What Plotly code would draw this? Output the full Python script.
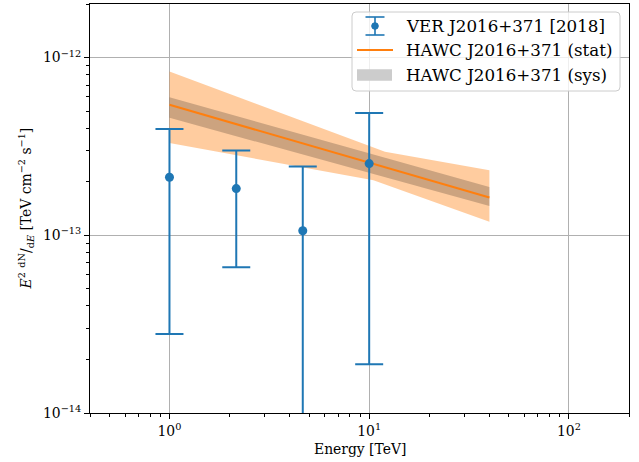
import math
import plotly.graph_objects as go

# VERITAS flux points: E^2 dN/dE [TeV cm^-2 s^-1], symmetric 1-sigma errors
ver_energy = [1.0, 2.16, 4.65, 10.0]
ver_flux = [2.12e-13, 1.83e-13, 1.06e-13, 2.53e-13]
ver_err = [1.842e-13, 1.17e-13, 1.38e-13, 2.342e-13]

# HAWC power-law fit (straight on log-log axes) with systematic band
hawc_energy = [1.0, 40.0]
hawc_flux = [5.42e-13, 1.63e-13]
hawc_sys_hi = [5.98e-13, 1.87e-13]
hawc_sys_lo = [4.58e-13, 1.46e-13]

# HAWC statistical butterfly (upper and lower edges)
stat_hi_energy = [1.0, 12.0, 40.0]
stat_hi = [8.34e-13, 2.95e-13, 2.32e-13]
stat_lo_energy = [1.0, 10.5, 40.0]
stat_lo = [3.30e-13, 2.04e-13, 1.19e-13]

# axis ticks
x_tickvals = [1, 10, 100]
x_ticktext = ["10<sup>0</sup>", "10<sup>1</sup>", "10<sup>2</sup>"]
y_tickvals = [1e-14, 1e-13, 1e-12]
y_ticktext = ["10<sup>\u221214</sup>", "10<sup>\u221213</sup>", "10<sup>\u221212</sup>"]

legend_labels = ["VER J2016+371 [2018]", "HAWC J2016+371 (stat)", "HAWC J2016+371 (sys)"]

BLUE = "#1f77b4"
ORANGE = "#ff7f0e"
FONT = "DejaVu Serif"

W, H = 639, 462
PLOT_L, PLOT_R, PLOT_T, PLOT_B = 90, 629, 4, 413


def px(x):
    return (x - PLOT_L) / (PLOT_R - PLOT_L)


def py(y):
    return (PLOT_B - y) / (PLOT_B - PLOT_T)


x_minor = [m * 10.0 ** k for k in range(-1, 3) for m in range(2, 10)]
y_minor = [m * 10.0 ** k for k in range(-14, -11) for m in range(2, 10)]

fig = go.Figure()

# statistical band
fig.add_trace(go.Scatter(
    x=stat_hi_energy + stat_lo_energy[::-1],
    y=stat_hi + stat_lo[::-1],
    fill="toself", fillcolor="rgba(255,127,14,0.4)",
    mode="lines", line=dict(width=0), hoverinfo="skip",
))
# systematic band
fig.add_trace(go.Scatter(
    x=hawc_energy + hawc_energy[::-1],
    y=hawc_sys_hi + hawc_sys_lo[::-1],
    fill="toself", fillcolor="rgba(0,0,0,0.2)",
    mode="lines", line=dict(width=0), hoverinfo="skip",
))
# best-fit line
fig.add_trace(go.Scatter(
    x=hawc_energy, y=hawc_flux, mode="lines",
    line=dict(color=ORANGE, width=2),
))
# VERITAS points
fig.add_trace(go.Scatter(
    x=ver_energy, y=ver_flux, mode="markers",
    marker=dict(color=BLUE, size=9),
    error_y=dict(type="data", array=ver_err, symmetric=True,
                 color=BLUE, thickness=2, width=14),
))

axis_common = dict(
    type="log",
    tickmode="array",
    ticks="outside", ticklen=5, tickwidth=1, tickcolor="#000",
    showgrid=True, gridcolor="#b0b0b0", gridwidth=1,
    showline=True, linecolor="#000", linewidth=1, mirror=True,
    zeroline=False,
    tickfont=dict(family=FONT, size=13.9, color="#000"),
)

fig.update_xaxes(
    **axis_common,
    range=[math.log10(0.4), math.log10(200)],
    tickvals=x_tickvals, ticktext=x_ticktext,
    minor=dict(tickmode="array", tickvals=x_minor, ticks="outside",
               ticklen=3, tickwidth=1, tickcolor="#000", showgrid=False),
)
fig.update_yaxes(
    **axis_common,
    range=[-14, math.log10(2e-12)],
    tickvals=y_tickvals, ticktext=y_ticktext,
    minor=dict(tickmode="array", tickvals=y_minor, ticks="outside",
               ticklen=3, tickwidth=1, tickcolor="#000", showgrid=False),
)

annotations = [
    dict(text="Energy [TeV]", xref="paper", yref="paper",
         x=px(359.5), y=py(449), xanchor="center", yanchor="middle",
         showarrow=False, font=dict(family=FONT, size=13.9, color="#000")),
    dict(text="<i>E</i><sup>2</sup> <sup>dN</sup>/<sub>d<i>E</i></sub> [TeV cm<sup>\u22122</sup> s<sup>\u22121</sup>]",
         xref="paper", yref="paper", x=px(26), y=0.5, textangle=-90,
         xanchor="center", yanchor="middle", showarrow=False,
         font=dict(family=FONT, size=13.9, color="#000")),
]

# legend
shapes = []
bx0, by0, bx1, by1, r = 352, 12, 620, 91, 4
path = (
    f"M{px(bx0 + r)},{py(by0)} L{px(bx1 - r)},{py(by0)} "
    f"Q{px(bx1)},{py(by0)} {px(bx1)},{py(by0 + r)} "
    f"L{px(bx1)},{py(by1 - r)} Q{px(bx1)},{py(by1)} {px(bx1 - r)},{py(by1)} "
    f"L{px(bx0 + r)},{py(by1)} Q{px(bx0)},{py(by1)} {px(bx0)},{py(by1 - r)} "
    f"L{px(bx0)},{py(by0 + r)} Q{px(bx0)},{py(by0)} {px(bx0 + r)},{py(by0)} Z"
)
shapes.append(dict(type="path", path=path, xref="paper", yref="paper",
                   fillcolor="rgba(255,255,255,0.8)",
                   line=dict(color="#cccccc", width=1)))

row_y = [26, 50, 75]
sym_cx = 375
# errorbar handle
shapes.append(dict(type="line", xref="paper", yref="paper",
                   x0=px(sym_cx), x1=px(sym_cx), y0=py(row_y[0] - 9), y1=py(row_y[0] + 9),
                   line=dict(color=BLUE, width=1.6)))
for dy in (-9, 9):
    shapes.append(dict(type="line", xref="paper", yref="paper",
                       x0=px(sym_cx - 9.5), x1=px(sym_cx + 9.5),
                       y0=py(row_y[0] + dy), y1=py(row_y[0] + dy),
                       line=dict(color=BLUE, width=1.6)))
shapes.append(dict(type="circle", xref="paper", yref="paper",
                   x0=px(sym_cx - 3.3), x1=px(sym_cx + 3.3),
                   y0=py(row_y[0] - 3.3), y1=py(row_y[0] + 3.3),
                   fillcolor=BLUE, line=dict(color=BLUE, width=1)))
# line handle
shapes.append(dict(type="line", xref="paper", yref="paper",
                   x0=px(357), x1=px(393), y0=py(row_y[1]), y1=py(row_y[1]),
                   line=dict(color=ORANGE, width=2)))
# patch handle
shapes.append(dict(type="rect", xref="paper", yref="paper",
                   x0=px(357), x1=px(392), y0=py(row_y[2] - 5.7), y1=py(row_y[2] + 5.7),
                   fillcolor="#cccccc", line=dict(width=0)))

for label, yy in zip(legend_labels, row_y):
    annotations.append(dict(text=label, xref="paper", yref="paper",
                            x=px(403.5), y=py(yy), xanchor="left", yanchor="middle",
                            showarrow=False,
                            font=dict(family=FONT, size=16.7, color="#000")))

fig.update_layout(
    width=W, height=H,
    margin=dict(l=PLOT_L, r=W - PLOT_R, t=PLOT_T, b=H - PLOT_B),
    paper_bgcolor="white", plot_bgcolor="white",
    showlegend=False,
    annotations=annotations,
    shapes=shapes,
)

fig.write_html("out.html")
